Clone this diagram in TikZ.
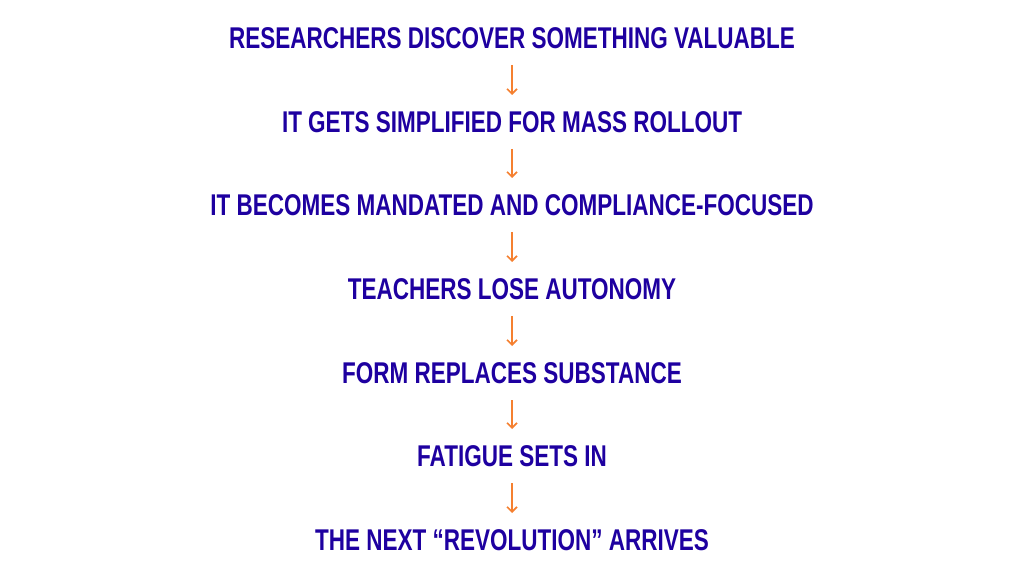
\documentclass[tikz,border=0pt]{standalone}
\usepackage{fontspec}
\setmainfont{Liberation Sans}[FakeStretch=0.75]
\usetikzlibrary{arrows.meta}
\definecolor{stepblue}{HTML}{1E00A0}
\definecolor{arroworange}{HTML}{F58030}
\begin{document}
\begin{tikzpicture}[x=1pt,y=1pt,
  stage/.style={text=stepblue,font=\fontsize{30}{30}\selectfont\bfseries,inner sep=0pt,anchor=center},
  flow/.style={draw=arroworange,line width=1.6pt,-{Straight Barb[length=5pt,width=10pt]}}]
\useasboundingbox (0,0) rectangle (1024,576);
\node[stage] (s1) at (512,538) {RESEARCHERS DISCOVER SOMETHING VALUABLE};
\node[stage] (s2) at (512,454) {IT GETS SIMPLIFIED FOR MASS ROLLOUT};
\node[stage] (s3) at (512,371) {IT BECOMES MANDATED AND COMPLIANCE-FOCUSED};
\node[stage] (s4) at (512,287) {TEACHERS LOSE AUTONOMY};
\node[stage] (s5) at (512,203) {FORM REPLACES SUBSTANCE};
\node[stage] (s6) at (512,120) {FATIGUE SETS IN};
\node[stage] (s7) at (512,36) {THE NEXT \char"201CREVOLUTION\char"201D{} ARRIVES};
\draw[flow] ([yshift=-27pt]s1.center) -- ([yshift=27pt]s2.center);
\draw[flow] ([yshift=-27pt]s2.center) -- ([yshift=27pt]s3.center);
\draw[flow] ([yshift=-27pt]s3.center) -- ([yshift=27pt]s4.center);
\draw[flow] ([yshift=-27pt]s4.center) -- ([yshift=27pt]s5.center);
\draw[flow] ([yshift=-27pt]s5.center) -- ([yshift=27pt]s6.center);
\draw[flow] ([yshift=-27pt]s6.center) -- ([yshift=27pt]s7.center);
\end{tikzpicture}
\end{document}
